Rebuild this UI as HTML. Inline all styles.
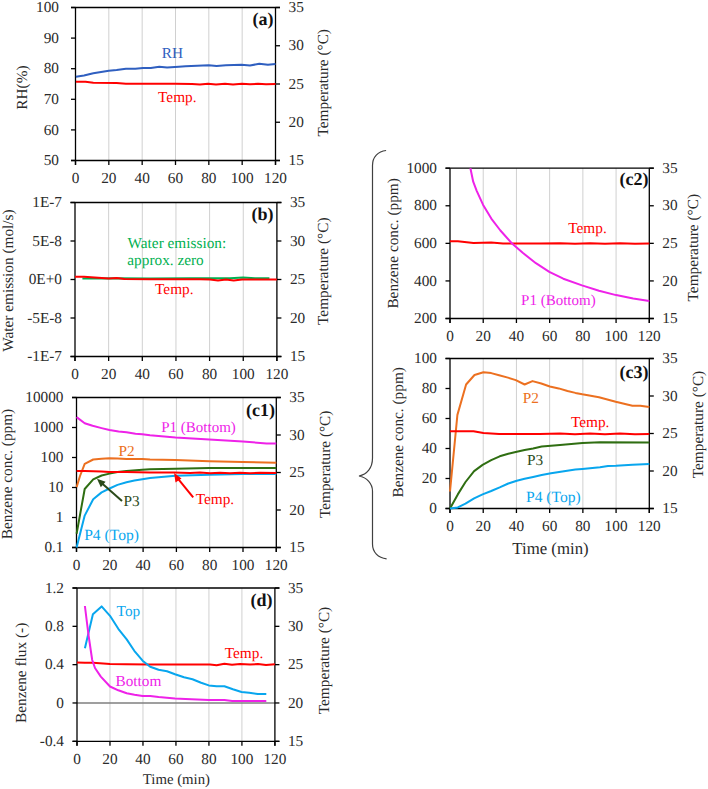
<!DOCTYPE html>
<html><head><meta charset="utf-8"><style>html,body{margin:0;padding:0;background:#fff;}svg{display:block;}text{font-family:"Liberation Serif",serif;text-rendering:geometricPrecision;}</style></head><body>
<svg width="708" height="789" viewBox="0 0 708 789" font-family="Liberation Serif" font-size="15.3" fill="#2a2a2a">
<rect width="708" height="789" fill="#fff"/>
<line x1="108.83" y1="7.50" x2="108.83" y2="160.50" stroke="#d0d0d0" stroke-width="1.0"/>
<line x1="142.17" y1="7.50" x2="142.17" y2="160.50" stroke="#d0d0d0" stroke-width="1.0"/>
<line x1="175.50" y1="7.50" x2="175.50" y2="160.50" stroke="#d0d0d0" stroke-width="1.0"/>
<line x1="208.83" y1="7.50" x2="208.83" y2="160.50" stroke="#d0d0d0" stroke-width="1.0"/>
<line x1="242.17" y1="7.50" x2="242.17" y2="160.50" stroke="#d0d0d0" stroke-width="1.0"/>
<line x1="71.00" y1="7.50" x2="280.00" y2="7.50" stroke="#000" stroke-width="1.3"/>
<line x1="71.00" y1="160.50" x2="280.00" y2="160.50" stroke="#000" stroke-width="1.3"/>
<line x1="75.50" y1="7.50" x2="75.50" y2="165.00" stroke="#000" stroke-width="1.3"/>
<line x1="275.50" y1="7.50" x2="275.50" y2="165.00" stroke="#000" stroke-width="1.3"/>
<line x1="71.00" y1="7.50" x2="75.50" y2="7.50" stroke="#000" stroke-width="1.3"/>
<text x="59.00" y="12.10" text-anchor="end">100</text>
<line x1="71.00" y1="38.10" x2="75.50" y2="38.10" stroke="#000" stroke-width="1.3"/>
<text x="59.00" y="42.70" text-anchor="end">90</text>
<line x1="71.00" y1="68.70" x2="75.50" y2="68.70" stroke="#000" stroke-width="1.3"/>
<text x="59.00" y="73.30" text-anchor="end">80</text>
<line x1="71.00" y1="99.30" x2="75.50" y2="99.30" stroke="#000" stroke-width="1.3"/>
<text x="59.00" y="103.90" text-anchor="end">70</text>
<line x1="71.00" y1="129.90" x2="75.50" y2="129.90" stroke="#000" stroke-width="1.3"/>
<text x="59.00" y="134.50" text-anchor="end">60</text>
<line x1="71.00" y1="160.50" x2="75.50" y2="160.50" stroke="#000" stroke-width="1.3"/>
<text x="59.00" y="165.10" text-anchor="end">50</text>
<line x1="275.50" y1="7.50" x2="280.00" y2="7.50" stroke="#000" stroke-width="1.3"/>
<text x="288.50" y="12.10">35</text>
<line x1="275.50" y1="45.75" x2="280.00" y2="45.75" stroke="#000" stroke-width="1.3"/>
<text x="288.50" y="50.35">30</text>
<line x1="275.50" y1="84.00" x2="280.00" y2="84.00" stroke="#000" stroke-width="1.3"/>
<text x="288.50" y="88.60">25</text>
<line x1="275.50" y1="122.25" x2="280.00" y2="122.25" stroke="#000" stroke-width="1.3"/>
<text x="288.50" y="126.85">20</text>
<line x1="275.50" y1="160.50" x2="280.00" y2="160.50" stroke="#000" stroke-width="1.3"/>
<text x="288.50" y="165.10">15</text>
<line x1="75.50" y1="160.50" x2="75.50" y2="165.00" stroke="#000" stroke-width="1.3"/>
<text x="75.50" y="182.70" text-anchor="middle">0</text>
<line x1="108.83" y1="160.50" x2="108.83" y2="165.00" stroke="#000" stroke-width="1.3"/>
<text x="108.83" y="182.70" text-anchor="middle">20</text>
<line x1="142.17" y1="160.50" x2="142.17" y2="165.00" stroke="#000" stroke-width="1.3"/>
<text x="142.17" y="182.70" text-anchor="middle">40</text>
<line x1="175.50" y1="160.50" x2="175.50" y2="165.00" stroke="#000" stroke-width="1.3"/>
<text x="175.50" y="182.70" text-anchor="middle">60</text>
<line x1="208.83" y1="160.50" x2="208.83" y2="165.00" stroke="#000" stroke-width="1.3"/>
<text x="208.83" y="182.70" text-anchor="middle">80</text>
<line x1="242.17" y1="160.50" x2="242.17" y2="165.00" stroke="#000" stroke-width="1.3"/>
<text x="242.17" y="182.70" text-anchor="middle">100</text>
<line x1="275.50" y1="160.50" x2="275.50" y2="165.00" stroke="#000" stroke-width="1.3"/>
<text x="275.50" y="182.70" text-anchor="middle">120</text>
<polyline points="75.9,76.8 84.0,75.5 93.3,73.3 108.8,70.8 116.6,70.1 125.9,68.8 135.3,68.7 143.0,68.0 150.8,68.0 159.3,66.7 167.1,67.4 178.8,66.7 185.5,66.2 208.8,65.3 216.6,66.0 225.9,65.3 241.5,64.8 250.0,65.6 259.3,63.7 267.9,64.8 275.5,63.9" fill="none" stroke="#2f5fc0" stroke-width="2.0" stroke-linejoin="round" stroke-linecap="butt"/>
<polyline points="75.9,81.7 85.5,81.7 93.3,82.7 116.6,83.0 125.9,83.8 150.0,83.8 175.0,83.8 192.0,84.0 200.0,84.5 208.0,83.8 216.0,84.4 225.0,83.8 233.0,84.4 242.0,83.8 250.0,84.3 258.0,83.8 266.0,84.2 275.5,83.9" fill="none" stroke="#ff0000" stroke-width="2.0" stroke-linejoin="round" stroke-linecap="butt"/>
<text x="172.40" y="58.00" text-anchor="middle" fill="#2f5fc0">RH</text>
<text x="177.30" y="101.80" text-anchor="middle" fill="#ff0000">Temp.</text>
<text x="273.50" y="25.30" text-anchor="end" fill="#111" font-weight="bold" font-size="18">(a)</text>
<text x="27.00" y="87.55" text-anchor="middle" transform="rotate(-90 27.00 87.55)">RH(%)</text>
<text x="327.90" y="82.75" text-anchor="middle" transform="rotate(-90 327.90 82.75)">Temperature (°C)</text>
<line x1="108.65" y1="202.50" x2="108.65" y2="356.50" stroke="#d0d0d0" stroke-width="1.0"/>
<line x1="142.30" y1="202.50" x2="142.30" y2="356.50" stroke="#d0d0d0" stroke-width="1.0"/>
<line x1="175.95" y1="202.50" x2="175.95" y2="356.50" stroke="#d0d0d0" stroke-width="1.0"/>
<line x1="209.60" y1="202.50" x2="209.60" y2="356.50" stroke="#d0d0d0" stroke-width="1.0"/>
<line x1="243.25" y1="202.50" x2="243.25" y2="356.50" stroke="#d0d0d0" stroke-width="1.0"/>
<line x1="70.50" y1="202.50" x2="281.40" y2="202.50" stroke="#000" stroke-width="1.3"/>
<line x1="70.50" y1="356.50" x2="281.40" y2="356.50" stroke="#000" stroke-width="1.3"/>
<line x1="75.00" y1="202.50" x2="75.00" y2="361.00" stroke="#000" stroke-width="1.3"/>
<line x1="276.90" y1="202.50" x2="276.90" y2="361.00" stroke="#000" stroke-width="1.3"/>
<line x1="70.50" y1="202.50" x2="75.00" y2="202.50" stroke="#000" stroke-width="1.3"/>
<text x="62.00" y="207.10" text-anchor="end">1E-7</text>
<line x1="70.50" y1="241.00" x2="75.00" y2="241.00" stroke="#000" stroke-width="1.3"/>
<text x="62.00" y="245.60" text-anchor="end">5E-8</text>
<line x1="70.50" y1="279.50" x2="75.00" y2="279.50" stroke="#000" stroke-width="1.3"/>
<text x="62.00" y="284.10" text-anchor="end">0E+0</text>
<line x1="70.50" y1="318.00" x2="75.00" y2="318.00" stroke="#000" stroke-width="1.3"/>
<text x="62.00" y="322.60" text-anchor="end">-5E-8</text>
<line x1="70.50" y1="356.50" x2="75.00" y2="356.50" stroke="#000" stroke-width="1.3"/>
<text x="62.00" y="361.10" text-anchor="end">-1E-7</text>
<line x1="276.90" y1="202.50" x2="281.40" y2="202.50" stroke="#000" stroke-width="1.3"/>
<text x="289.90" y="207.10">35</text>
<line x1="276.90" y1="241.00" x2="281.40" y2="241.00" stroke="#000" stroke-width="1.3"/>
<text x="289.90" y="245.60">30</text>
<line x1="276.90" y1="279.50" x2="281.40" y2="279.50" stroke="#000" stroke-width="1.3"/>
<text x="289.90" y="284.10">25</text>
<line x1="276.90" y1="318.00" x2="281.40" y2="318.00" stroke="#000" stroke-width="1.3"/>
<text x="289.90" y="322.60">20</text>
<line x1="276.90" y1="356.50" x2="281.40" y2="356.50" stroke="#000" stroke-width="1.3"/>
<text x="289.90" y="361.10">15</text>
<line x1="75.00" y1="356.50" x2="75.00" y2="361.00" stroke="#000" stroke-width="1.3"/>
<text x="75.00" y="378.70" text-anchor="middle">0</text>
<line x1="108.65" y1="356.50" x2="108.65" y2="361.00" stroke="#000" stroke-width="1.3"/>
<text x="108.65" y="378.70" text-anchor="middle">20</text>
<line x1="142.30" y1="356.50" x2="142.30" y2="361.00" stroke="#000" stroke-width="1.3"/>
<text x="142.30" y="378.70" text-anchor="middle">40</text>
<line x1="175.95" y1="356.50" x2="175.95" y2="361.00" stroke="#000" stroke-width="1.3"/>
<text x="175.95" y="378.70" text-anchor="middle">60</text>
<line x1="209.60" y1="356.50" x2="209.60" y2="361.00" stroke="#000" stroke-width="1.3"/>
<text x="209.60" y="378.70" text-anchor="middle">80</text>
<line x1="243.25" y1="356.50" x2="243.25" y2="361.00" stroke="#000" stroke-width="1.3"/>
<text x="243.25" y="378.70" text-anchor="middle">100</text>
<line x1="276.90" y1="356.50" x2="276.90" y2="361.00" stroke="#000" stroke-width="1.3"/>
<text x="276.90" y="378.70" text-anchor="middle">120</text>
<polyline points="82.4,278.6 100.0,278.6 116.0,278.3 150.0,278.5 190.0,278.3 230.0,278.3 243.0,277.4 255.0,278.3 269.4,278.3" fill="none" stroke="#00b050" stroke-width="2.0" stroke-linejoin="round" stroke-linecap="butt"/>
<polyline points="75.0,276.8 84.0,276.8 108.8,278.6 116.6,277.9 124.4,279.0 150.0,279.2 200.0,279.3 210.0,279.6 218.0,280.4 226.0,279.5 233.7,280.4 242.0,279.4 260.0,279.4 276.9,279.4" fill="none" stroke="#ff0000" stroke-width="2.0" stroke-linejoin="round" stroke-linecap="butt"/>
<text x="127.60" y="247.60" fill="#00b050">Water emission:</text>
<text x="127.30" y="265.40" fill="#00b050">approx. zero</text>
<text x="174.30" y="294.00" text-anchor="middle" fill="#ff0000">Temp.</text>
<text x="273.50" y="220.00" text-anchor="end" fill="#111" font-weight="bold" font-size="18">(b)</text>
<text x="12.90" y="280.55" text-anchor="middle" transform="rotate(-90 12.90 280.55)">Water emission (mol/s)</text>
<text x="328.50" y="271.20" text-anchor="middle" transform="rotate(-90 328.50 271.20)">Temperature (°C)</text>
<line x1="109.80" y1="397.50" x2="109.80" y2="547.50" stroke="#d0d0d0" stroke-width="1.0"/>
<line x1="143.10" y1="397.50" x2="143.10" y2="547.50" stroke="#d0d0d0" stroke-width="1.0"/>
<line x1="176.40" y1="397.50" x2="176.40" y2="547.50" stroke="#d0d0d0" stroke-width="1.0"/>
<line x1="209.70" y1="397.50" x2="209.70" y2="547.50" stroke="#d0d0d0" stroke-width="1.0"/>
<line x1="243.00" y1="397.50" x2="243.00" y2="547.50" stroke="#d0d0d0" stroke-width="1.0"/>
<line x1="72.00" y1="397.50" x2="280.80" y2="397.50" stroke="#000" stroke-width="1.3"/>
<line x1="72.00" y1="547.50" x2="280.80" y2="547.50" stroke="#000" stroke-width="1.3"/>
<line x1="76.50" y1="397.50" x2="76.50" y2="552.00" stroke="#000" stroke-width="1.3"/>
<line x1="276.30" y1="397.50" x2="276.30" y2="552.00" stroke="#000" stroke-width="1.3"/>
<line x1="72.00" y1="397.50" x2="76.50" y2="397.50" stroke="#000" stroke-width="1.3"/>
<text x="63.50" y="402.10" text-anchor="end">10000</text>
<line x1="72.00" y1="427.50" x2="76.50" y2="427.50" stroke="#000" stroke-width="1.3"/>
<text x="63.50" y="432.10" text-anchor="end">1000</text>
<line x1="72.00" y1="457.50" x2="76.50" y2="457.50" stroke="#000" stroke-width="1.3"/>
<text x="63.50" y="462.10" text-anchor="end">100</text>
<line x1="72.00" y1="487.50" x2="76.50" y2="487.50" stroke="#000" stroke-width="1.3"/>
<text x="63.50" y="492.10" text-anchor="end">10</text>
<line x1="72.00" y1="517.50" x2="76.50" y2="517.50" stroke="#000" stroke-width="1.3"/>
<text x="63.50" y="522.10" text-anchor="end">1</text>
<line x1="72.00" y1="547.50" x2="76.50" y2="547.50" stroke="#000" stroke-width="1.3"/>
<text x="63.50" y="552.10" text-anchor="end">0.1</text>
<line x1="276.30" y1="397.50" x2="280.80" y2="397.50" stroke="#000" stroke-width="1.3"/>
<text x="289.30" y="402.10">35</text>
<line x1="276.30" y1="435.00" x2="280.80" y2="435.00" stroke="#000" stroke-width="1.3"/>
<text x="289.30" y="439.60">30</text>
<line x1="276.30" y1="472.50" x2="280.80" y2="472.50" stroke="#000" stroke-width="1.3"/>
<text x="289.30" y="477.10">25</text>
<line x1="276.30" y1="510.00" x2="280.80" y2="510.00" stroke="#000" stroke-width="1.3"/>
<text x="289.30" y="514.60">20</text>
<line x1="276.30" y1="547.50" x2="280.80" y2="547.50" stroke="#000" stroke-width="1.3"/>
<text x="289.30" y="552.10">15</text>
<line x1="76.50" y1="547.50" x2="76.50" y2="552.00" stroke="#000" stroke-width="1.3"/>
<text x="76.50" y="569.70" text-anchor="middle">0</text>
<line x1="109.80" y1="547.50" x2="109.80" y2="552.00" stroke="#000" stroke-width="1.3"/>
<text x="109.80" y="569.70" text-anchor="middle">20</text>
<line x1="143.10" y1="547.50" x2="143.10" y2="552.00" stroke="#000" stroke-width="1.3"/>
<text x="143.10" y="569.70" text-anchor="middle">40</text>
<line x1="176.40" y1="547.50" x2="176.40" y2="552.00" stroke="#000" stroke-width="1.3"/>
<text x="176.40" y="569.70" text-anchor="middle">60</text>
<line x1="209.70" y1="547.50" x2="209.70" y2="552.00" stroke="#000" stroke-width="1.3"/>
<text x="209.70" y="569.70" text-anchor="middle">80</text>
<line x1="243.00" y1="547.50" x2="243.00" y2="552.00" stroke="#000" stroke-width="1.3"/>
<text x="243.00" y="569.70" text-anchor="middle">100</text>
<line x1="276.30" y1="547.50" x2="276.30" y2="552.00" stroke="#000" stroke-width="1.3"/>
<text x="276.30" y="569.70" text-anchor="middle">120</text>
<polyline points="76.6,417.1 84.7,423.2 92.6,425.8 101.6,428.1 109.5,430.0 118.6,431.5 126.5,432.3 135.5,433.7 142.3,434.3 150.0,435.2 175.6,437.5 209.2,439.5 242.8,441.5 266.6,443.5 276.3,443.5" fill="none" stroke="#ee22e8" stroke-width="2.0" stroke-linejoin="round" stroke-linecap="butt"/>
<polyline points="76.6,487.1 80.0,476.0 84.7,463.9 93.2,459.5 101.6,458.8 109.5,458.2 117.5,458.6 126.5,459.1 142.3,458.9 150.0,459.6 175.6,460.1 209.2,461.2 242.8,462.1 276.3,462.7" fill="none" stroke="#ec7020" stroke-width="2.0" stroke-linejoin="round" stroke-linecap="butt"/>
<polyline points="76.6,533.7 84.7,489.0 93.2,479.4 101.6,475.5 109.5,473.6 117.5,472.1 126.5,471.0 142.3,469.8 150.0,469.3 175.6,468.7 209.2,467.9 276.3,467.9" fill="none" stroke="#2f6e12" stroke-width="2.0" stroke-linejoin="round" stroke-linecap="butt"/>
<polyline points="76.6,547.5 84.7,515.6 93.2,499.2 101.6,492.4 109.5,488.5 117.5,484.9 126.5,482.3 134.4,480.6 142.3,479.2 150.0,477.9 175.6,475.8 209.2,474.7 242.8,474.1 276.3,473.9" fill="none" stroke="#08a6ee" stroke-width="2.0" stroke-linejoin="round" stroke-linecap="butt"/>
<polyline points="76.6,471.0 84.7,471.0 101.6,471.4 109.5,472.1 126.5,472.1 150.0,472.6 174.0,472.6 190.0,473.0 200.0,472.6 210.0,473.2 220.0,472.7 230.0,473.2 240.0,472.7 250.0,473.2 260.0,472.8 276.3,472.9" fill="none" stroke="#ff0000" stroke-width="2.0" stroke-linejoin="round" stroke-linecap="butt"/>
<text x="198.50" y="431.80" text-anchor="middle" fill="#ee22e8" font-size="15">P1 (Bottom)</text>
<text x="126.70" y="455.50" text-anchor="middle" fill="#ec7020">P2</text>
<text x="131.50" y="505.70" text-anchor="middle" fill="#2b4a1a">P3</text>
<text x="111.60" y="540.20" text-anchor="middle" fill="#08a6ee" font-size="15.6">P4 (Top)</text>
<text x="214.90" y="503.50" text-anchor="middle" fill="#ff0000">Temp.</text>
<text x="275.00" y="415.90" text-anchor="end" fill="#111" font-weight="bold" font-size="18">(c1)</text>
<text x="12.00" y="474.00" text-anchor="middle" transform="rotate(-90 12.00 474.00)">Benzene conc. (ppm)</text>
<text x="330.40" y="464.30" text-anchor="middle" transform="rotate(-90 330.40 464.30)">Temperature (°C)</text>
<line x1="122" y1="500.9" x2="101" y2="482.4" stroke="#2b4a1a" stroke-width="2"/>
<polygon points="97,478.7 105.6,481.8 100.8,487.2" fill="#2b4a1a"/>
<line x1="193.2" y1="497.4" x2="177.3" y2="477.8" stroke="#ff0000" stroke-width="2"/>
<polygon points="174.1,473 181.5,478.5 175.5,482.5" fill="#ff0000"/>
<line x1="109.98" y1="588.00" x2="109.98" y2="741.30" stroke="#d0d0d0" stroke-width="1.0"/>
<line x1="142.97" y1="588.00" x2="142.97" y2="741.30" stroke="#d0d0d0" stroke-width="1.0"/>
<line x1="175.95" y1="588.00" x2="175.95" y2="741.30" stroke="#d0d0d0" stroke-width="1.0"/>
<line x1="208.93" y1="588.00" x2="208.93" y2="741.30" stroke="#d0d0d0" stroke-width="1.0"/>
<line x1="241.92" y1="588.00" x2="241.92" y2="741.30" stroke="#d0d0d0" stroke-width="1.0"/>
<line x1="77.00" y1="703.00" x2="274.90" y2="703.00" stroke="#7f7f7f" stroke-width="1.3"/>
<line x1="72.50" y1="588.00" x2="279.40" y2="588.00" stroke="#000" stroke-width="1.3"/>
<line x1="72.50" y1="741.30" x2="279.40" y2="741.30" stroke="#000" stroke-width="1.3"/>
<line x1="77.00" y1="588.00" x2="77.00" y2="745.80" stroke="#000" stroke-width="1.3"/>
<line x1="274.90" y1="588.00" x2="274.90" y2="745.80" stroke="#000" stroke-width="1.3"/>
<line x1="72.50" y1="588.00" x2="77.00" y2="588.00" stroke="#000" stroke-width="1.3"/>
<text x="64.00" y="592.60" text-anchor="end">1.2</text>
<line x1="72.50" y1="626.33" x2="77.00" y2="626.33" stroke="#000" stroke-width="1.3"/>
<text x="64.00" y="630.93" text-anchor="end">0.8</text>
<line x1="72.50" y1="664.65" x2="77.00" y2="664.65" stroke="#000" stroke-width="1.3"/>
<text x="64.00" y="669.25" text-anchor="end">0.4</text>
<line x1="72.50" y1="702.97" x2="77.00" y2="702.97" stroke="#000" stroke-width="1.3"/>
<text x="64.00" y="707.57" text-anchor="end">0</text>
<line x1="72.50" y1="741.30" x2="77.00" y2="741.30" stroke="#000" stroke-width="1.3"/>
<text x="64.00" y="745.90" text-anchor="end">-0.4</text>
<line x1="274.90" y1="588.00" x2="279.40" y2="588.00" stroke="#000" stroke-width="1.3"/>
<text x="287.90" y="592.60">35</text>
<line x1="274.90" y1="626.33" x2="279.40" y2="626.33" stroke="#000" stroke-width="1.3"/>
<text x="287.90" y="630.93">30</text>
<line x1="274.90" y1="664.65" x2="279.40" y2="664.65" stroke="#000" stroke-width="1.3"/>
<text x="287.90" y="669.25">25</text>
<line x1="274.90" y1="702.97" x2="279.40" y2="702.97" stroke="#000" stroke-width="1.3"/>
<text x="287.90" y="707.57">20</text>
<line x1="274.90" y1="741.30" x2="279.40" y2="741.30" stroke="#000" stroke-width="1.3"/>
<text x="287.90" y="745.90">15</text>
<line x1="77.00" y1="741.30" x2="77.00" y2="745.80" stroke="#000" stroke-width="1.3"/>
<text x="77.00" y="763.50" text-anchor="middle">0</text>
<line x1="109.98" y1="741.30" x2="109.98" y2="745.80" stroke="#000" stroke-width="1.3"/>
<text x="109.98" y="763.50" text-anchor="middle">20</text>
<line x1="142.97" y1="741.30" x2="142.97" y2="745.80" stroke="#000" stroke-width="1.3"/>
<text x="142.97" y="763.50" text-anchor="middle">40</text>
<line x1="175.95" y1="741.30" x2="175.95" y2="745.80" stroke="#000" stroke-width="1.3"/>
<text x="175.95" y="763.50" text-anchor="middle">60</text>
<line x1="208.93" y1="741.30" x2="208.93" y2="745.80" stroke="#000" stroke-width="1.3"/>
<text x="208.93" y="763.50" text-anchor="middle">80</text>
<line x1="241.92" y1="741.30" x2="241.92" y2="745.80" stroke="#000" stroke-width="1.3"/>
<text x="241.92" y="763.50" text-anchor="middle">100</text>
<line x1="274.90" y1="741.30" x2="274.90" y2="745.80" stroke="#000" stroke-width="1.3"/>
<text x="274.90" y="763.50" text-anchor="middle">120</text>
<polyline points="84.9,662.8 93.0,662.8 110.0,664.0 126.0,664.3 150.0,664.4 175.0,664.5 200.0,664.4 210.0,664.4 216.6,665.2 224.4,663.8 232.0,664.8 240.0,664.0 250.0,664.6 258.0,664.0 266.0,665.0 274.9,664.2" fill="none" stroke="#ff0000" stroke-width="2.0" stroke-linejoin="round" stroke-linecap="butt"/>
<polyline points="77.0,662.6 85.0,662.8" fill="none" stroke="#ff0000" stroke-width="2.0" stroke-linejoin="round" stroke-linecap="butt"/>
<polyline points="84.9,648.2 92.9,614.3 101.6,606.4 110.0,615.8 118.3,628.8 126.7,639.4 134.3,650.8 142.6,660.7 150.2,666.7 158.6,669.8 167.0,671.3 175.0,674.3 184.0,677.3 192.5,679.2 201.1,682.7 208.8,685.4 216.6,686.3 224.4,686.3 232.9,689.3 241.5,692.0 249.2,692.8 257.8,694.1 266.3,694.1" fill="none" stroke="#08a6ee" stroke-width="2.0" stroke-linejoin="round" stroke-linecap="butt"/>
<polyline points="84.9,606.0 88.5,635.0 92.2,660.0 95.0,668.0 100.8,676.6 110.0,686.5 118.3,690.3 126.7,693.3 134.5,694.8 142.6,695.9 150.2,695.9 158.6,697.1 175.0,698.5 185.5,699.0 208.8,700.1 224.4,700.1 232.2,700.9 266.3,700.9" fill="none" stroke="#ee22e8" stroke-width="2.0" stroke-linejoin="round" stroke-linecap="butt"/>
<text x="128.40" y="616.10" text-anchor="middle" fill="#08a6ee">Top</text>
<text x="138.40" y="686.00" text-anchor="middle" fill="#ee22e8">Bottom</text>
<text x="244.00" y="657.90" text-anchor="middle" fill="#ff0000">Temp.</text>
<text x="272.50" y="605.50" text-anchor="end" fill="#111" font-weight="bold" font-size="18">(d)</text>
<text x="25.90" y="672.90" text-anchor="middle" transform="rotate(-90 25.90 672.90)">Benzene flux (-)</text>
<text x="328.60" y="660.50" text-anchor="middle" transform="rotate(-90 328.60 660.50)">Temperature (°C)</text>
<text x="176.40" y="783.90" text-anchor="middle" font-size="14.8">Time (min)</text>
<line x1="483.22" y1="168.20" x2="483.22" y2="318.50" stroke="#d0d0d0" stroke-width="1.0"/>
<line x1="516.43" y1="168.20" x2="516.43" y2="318.50" stroke="#d0d0d0" stroke-width="1.0"/>
<line x1="549.65" y1="168.20" x2="549.65" y2="318.50" stroke="#d0d0d0" stroke-width="1.0"/>
<line x1="582.87" y1="168.20" x2="582.87" y2="318.50" stroke="#d0d0d0" stroke-width="1.0"/>
<line x1="616.08" y1="168.20" x2="616.08" y2="318.50" stroke="#d0d0d0" stroke-width="1.0"/>
<line x1="445.50" y1="168.20" x2="653.80" y2="168.20" stroke="#000" stroke-width="1.3"/>
<line x1="445.50" y1="318.50" x2="653.80" y2="318.50" stroke="#000" stroke-width="1.3"/>
<line x1="450.00" y1="168.20" x2="450.00" y2="323.00" stroke="#000" stroke-width="1.3"/>
<line x1="649.30" y1="168.20" x2="649.30" y2="323.00" stroke="#000" stroke-width="1.3"/>
<line x1="445.50" y1="168.20" x2="450.00" y2="168.20" stroke="#000" stroke-width="1.3"/>
<text x="437.00" y="172.80" text-anchor="end">1000</text>
<line x1="445.50" y1="205.77" x2="450.00" y2="205.77" stroke="#000" stroke-width="1.3"/>
<text x="437.00" y="210.37" text-anchor="end">800</text>
<line x1="445.50" y1="243.35" x2="450.00" y2="243.35" stroke="#000" stroke-width="1.3"/>
<text x="437.00" y="247.95" text-anchor="end">600</text>
<line x1="445.50" y1="280.93" x2="450.00" y2="280.93" stroke="#000" stroke-width="1.3"/>
<text x="437.00" y="285.53" text-anchor="end">400</text>
<line x1="445.50" y1="318.50" x2="450.00" y2="318.50" stroke="#000" stroke-width="1.3"/>
<text x="437.00" y="323.10" text-anchor="end">200</text>
<line x1="649.30" y1="168.20" x2="653.80" y2="168.20" stroke="#000" stroke-width="1.3"/>
<text x="662.30" y="172.80">35</text>
<line x1="649.30" y1="205.77" x2="653.80" y2="205.77" stroke="#000" stroke-width="1.3"/>
<text x="662.30" y="210.37">30</text>
<line x1="649.30" y1="243.35" x2="653.80" y2="243.35" stroke="#000" stroke-width="1.3"/>
<text x="662.30" y="247.95">25</text>
<line x1="649.30" y1="280.93" x2="653.80" y2="280.93" stroke="#000" stroke-width="1.3"/>
<text x="662.30" y="285.53">20</text>
<line x1="649.30" y1="318.50" x2="653.80" y2="318.50" stroke="#000" stroke-width="1.3"/>
<text x="662.30" y="323.10">15</text>
<line x1="450.00" y1="318.50" x2="450.00" y2="323.00" stroke="#000" stroke-width="1.3"/>
<text x="450.00" y="340.70" text-anchor="middle">0</text>
<line x1="483.22" y1="318.50" x2="483.22" y2="323.00" stroke="#000" stroke-width="1.3"/>
<text x="483.22" y="340.70" text-anchor="middle">20</text>
<line x1="516.43" y1="318.50" x2="516.43" y2="323.00" stroke="#000" stroke-width="1.3"/>
<text x="516.43" y="340.70" text-anchor="middle">40</text>
<line x1="549.65" y1="318.50" x2="549.65" y2="323.00" stroke="#000" stroke-width="1.3"/>
<text x="549.65" y="340.70" text-anchor="middle">60</text>
<line x1="582.87" y1="318.50" x2="582.87" y2="323.00" stroke="#000" stroke-width="1.3"/>
<text x="582.87" y="340.70" text-anchor="middle">80</text>
<line x1="616.08" y1="318.50" x2="616.08" y2="323.00" stroke="#000" stroke-width="1.3"/>
<text x="616.08" y="340.70" text-anchor="middle">100</text>
<line x1="649.30" y1="318.50" x2="649.30" y2="323.00" stroke="#000" stroke-width="1.3"/>
<text x="649.30" y="340.70" text-anchor="middle">120</text>
<polyline points="450.0,241.2 457.8,241.2 473.5,243.0 491.2,242.6 503.0,243.6 520.0,243.6 540.0,243.6 560.0,243.2 575.0,243.8 590.0,243.2 605.0,243.8 620.0,243.2 635.0,243.8 649.3,243.4" fill="none" stroke="#ff0000" stroke-width="2.0" stroke-linejoin="round" stroke-linecap="butt"/>
<polyline points="470.4,168.2 473.2,181.7 476.7,190.8 483.0,204.7 491.3,218.6 500.4,230.5 511.5,243.0 522.7,252.8 535.9,263.2 549.3,271.8 563.3,278.7 582.0,285.4 599.0,290.7 616.1,295.1 633.2,298.6 649.3,301.0" fill="none" stroke="#ee22e8" stroke-width="2.0" stroke-linejoin="round" stroke-linecap="butt"/>
<text x="558.40" y="304.60" text-anchor="middle" fill="#ee22e8" font-size="15">P1 (Bottom)</text>
<text x="587.50" y="232.50" text-anchor="middle" fill="#ff0000">Temp.</text>
<text x="648.50" y="185.20" text-anchor="end" fill="#111" font-weight="bold" font-size="18">(c2)</text>
<text x="398.20" y="243.40" text-anchor="middle" transform="rotate(-90 398.20 243.40)">Benzene conc. (ppm)</text>
<text x="698.30" y="247.70" text-anchor="middle" transform="rotate(-90 698.30 247.70)">Temperature (°C)</text>
<line x1="483.22" y1="358.50" x2="483.22" y2="508.50" stroke="#d0d0d0" stroke-width="1.0"/>
<line x1="516.43" y1="358.50" x2="516.43" y2="508.50" stroke="#d0d0d0" stroke-width="1.0"/>
<line x1="549.65" y1="358.50" x2="549.65" y2="508.50" stroke="#d0d0d0" stroke-width="1.0"/>
<line x1="582.87" y1="358.50" x2="582.87" y2="508.50" stroke="#d0d0d0" stroke-width="1.0"/>
<line x1="616.08" y1="358.50" x2="616.08" y2="508.50" stroke="#d0d0d0" stroke-width="1.0"/>
<line x1="445.50" y1="358.50" x2="653.80" y2="358.50" stroke="#000" stroke-width="1.3"/>
<line x1="445.50" y1="508.50" x2="653.80" y2="508.50" stroke="#000" stroke-width="1.3"/>
<line x1="450.00" y1="358.50" x2="450.00" y2="513.00" stroke="#000" stroke-width="1.3"/>
<line x1="649.30" y1="358.50" x2="649.30" y2="513.00" stroke="#000" stroke-width="1.3"/>
<line x1="445.50" y1="358.50" x2="450.00" y2="358.50" stroke="#000" stroke-width="1.3"/>
<text x="437.00" y="363.10" text-anchor="end">100</text>
<line x1="445.50" y1="388.50" x2="450.00" y2="388.50" stroke="#000" stroke-width="1.3"/>
<text x="437.00" y="393.10" text-anchor="end">80</text>
<line x1="445.50" y1="418.50" x2="450.00" y2="418.50" stroke="#000" stroke-width="1.3"/>
<text x="437.00" y="423.10" text-anchor="end">60</text>
<line x1="445.50" y1="448.50" x2="450.00" y2="448.50" stroke="#000" stroke-width="1.3"/>
<text x="437.00" y="453.10" text-anchor="end">40</text>
<line x1="445.50" y1="478.50" x2="450.00" y2="478.50" stroke="#000" stroke-width="1.3"/>
<text x="437.00" y="483.10" text-anchor="end">20</text>
<line x1="445.50" y1="508.50" x2="450.00" y2="508.50" stroke="#000" stroke-width="1.3"/>
<text x="437.00" y="513.10" text-anchor="end">0</text>
<line x1="649.30" y1="358.50" x2="653.80" y2="358.50" stroke="#000" stroke-width="1.3"/>
<text x="662.30" y="363.10">35</text>
<line x1="649.30" y1="396.00" x2="653.80" y2="396.00" stroke="#000" stroke-width="1.3"/>
<text x="662.30" y="400.60">30</text>
<line x1="649.30" y1="433.50" x2="653.80" y2="433.50" stroke="#000" stroke-width="1.3"/>
<text x="662.30" y="438.10">25</text>
<line x1="649.30" y1="471.00" x2="653.80" y2="471.00" stroke="#000" stroke-width="1.3"/>
<text x="662.30" y="475.60">20</text>
<line x1="649.30" y1="508.50" x2="653.80" y2="508.50" stroke="#000" stroke-width="1.3"/>
<text x="662.30" y="513.10">15</text>
<line x1="450.00" y1="508.50" x2="450.00" y2="513.00" stroke="#000" stroke-width="1.3"/>
<text x="450.00" y="530.70" text-anchor="middle">0</text>
<line x1="483.22" y1="508.50" x2="483.22" y2="513.00" stroke="#000" stroke-width="1.3"/>
<text x="483.22" y="530.70" text-anchor="middle">20</text>
<line x1="516.43" y1="508.50" x2="516.43" y2="513.00" stroke="#000" stroke-width="1.3"/>
<text x="516.43" y="530.70" text-anchor="middle">40</text>
<line x1="549.65" y1="508.50" x2="549.65" y2="513.00" stroke="#000" stroke-width="1.3"/>
<text x="549.65" y="530.70" text-anchor="middle">60</text>
<line x1="582.87" y1="508.50" x2="582.87" y2="513.00" stroke="#000" stroke-width="1.3"/>
<text x="582.87" y="530.70" text-anchor="middle">80</text>
<line x1="616.08" y1="508.50" x2="616.08" y2="513.00" stroke="#000" stroke-width="1.3"/>
<text x="616.08" y="530.70" text-anchor="middle">100</text>
<line x1="649.30" y1="508.50" x2="649.30" y2="513.00" stroke="#000" stroke-width="1.3"/>
<text x="649.30" y="530.70" text-anchor="middle">120</text>
<polyline points="450.0,491.5 457.4,414.9 466.1,384.5 474.5,375.0 483.4,372.3 491.2,373.1 499.1,375.2 507.9,377.6 515.8,380.1 524.6,384.5 532.5,381.1 541.3,383.5 549.8,386.5 558.7,388.4 567.5,391.0 575.4,392.9 582.3,394.3 599.0,397.3 615.7,401.8 632.4,405.7 640.3,405.7 649.3,407.1" fill="none" stroke="#ec7020" stroke-width="2.0" stroke-linejoin="round" stroke-linecap="butt"/>
<polyline points="450.0,431.2 473.5,431.2 483.4,433.0 499.1,434.0 540.0,434.0 560.0,433.6 575.0,434.3 590.0,433.6 605.0,434.3 620.0,433.6 635.0,434.3 649.3,434.0" fill="none" stroke="#ff0000" stroke-width="2.0" stroke-linejoin="round" stroke-linecap="butt"/>
<polyline points="450.0,508.5 457.8,494.4 465.5,482.0 474.1,471.1 482.6,464.9 491.2,460.2 499.7,456.3 508.3,453.7 516.8,451.7 524.6,450.1 533.1,448.5 541.7,446.5 551.0,445.7 560.0,445.0 582.5,442.9 600.0,442.3 649.3,442.4" fill="none" stroke="#2f6e12" stroke-width="2.0" stroke-linejoin="round" stroke-linecap="butt"/>
<polyline points="450.0,508.5 457.8,507.4 465.5,503.7 474.1,498.3 482.6,494.4 491.2,491.0 499.7,487.4 508.3,483.5 516.8,480.7 524.6,478.8 533.1,477.0 541.7,475.0 551.0,473.3 565.6,471.0 575.4,469.6 582.3,468.9 600.0,467.2 608.0,465.9 616.0,465.8 632.4,464.7 649.3,463.9" fill="none" stroke="#08a6ee" stroke-width="2.0" stroke-linejoin="round" stroke-linecap="butt"/>
<text x="530.80" y="402.70" text-anchor="middle" fill="#ec7020">P2</text>
<text x="535.00" y="465.00" text-anchor="middle" fill="#2b4a1a">P3</text>
<text x="553.40" y="501.50" text-anchor="middle" fill="#08a6ee" font-size="15.6">P4 (Top)</text>
<text x="590.20" y="426.80" text-anchor="middle" fill="#ff0000">Temp.</text>
<text x="648.50" y="378.00" text-anchor="end" fill="#111" font-weight="bold" font-size="18">(c3)</text>
<text x="403.50" y="432.30" text-anchor="middle" transform="rotate(-90 403.50 432.30)">Benzene conc. (ppm)</text>
<text x="702.90" y="424.50" text-anchor="middle" transform="rotate(-90 702.90 424.50)">Temperature (°C)</text>
<text x="550.50" y="553.60" text-anchor="middle" font-size="16.8">Time (min)</text>
<path d="M386.1,150.5 C378,151.5 372.5,157 372.5,165.4 L372.5,458 C372.5,468 367,474.5 359,476 C367,477.5 372.5,484 372.5,491.2 L372.5,544 C372.5,552 378,558 386.6,558.8" fill="none" stroke="#404040" stroke-width="1.2"/>
</svg>
</body></html>
